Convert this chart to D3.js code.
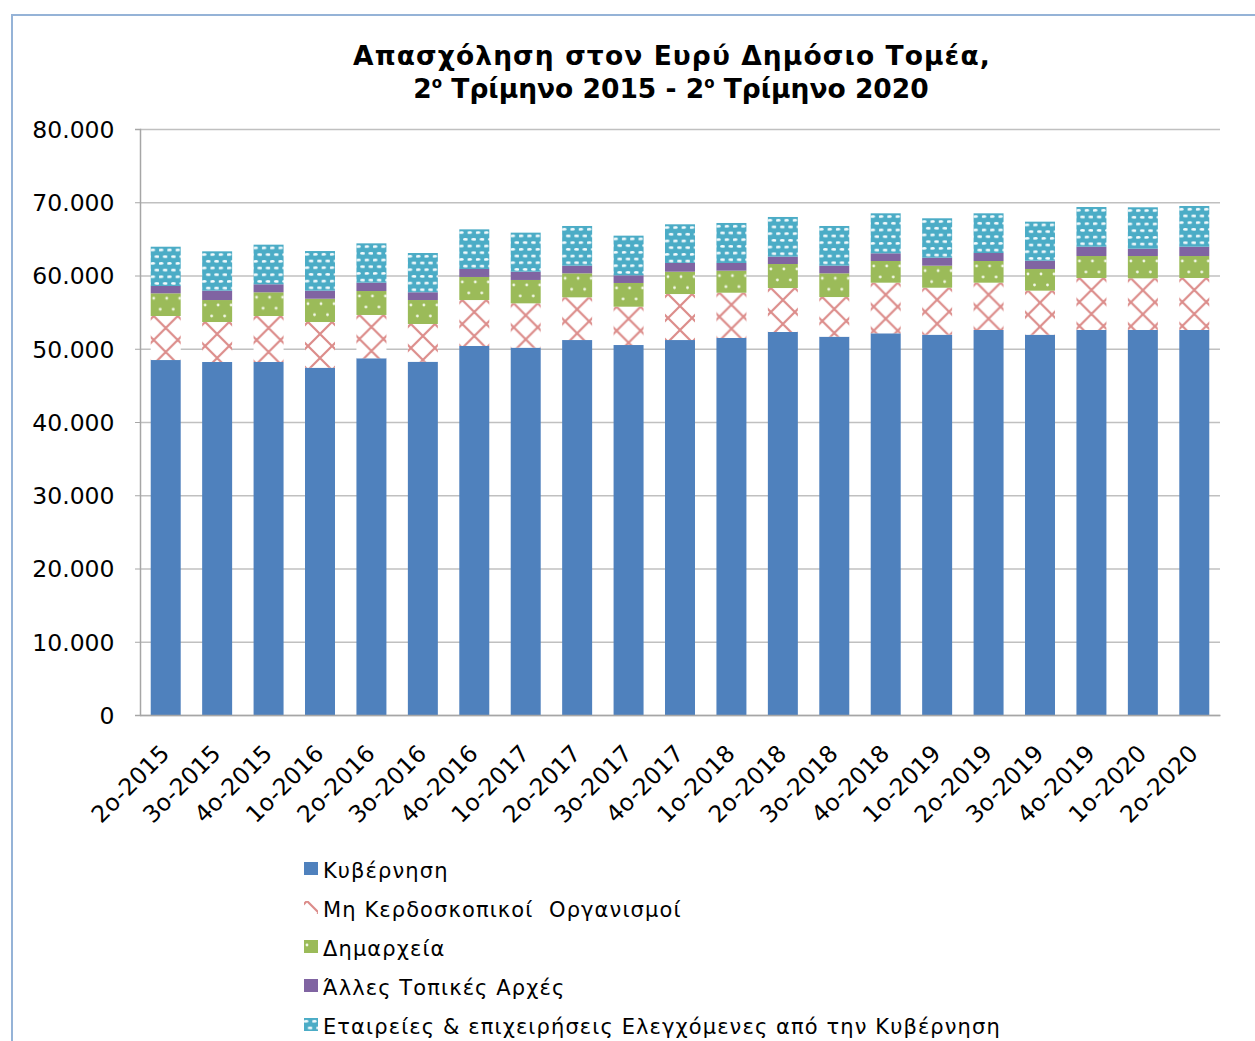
<!DOCTYPE html>
<html>
<head>
<meta charset="utf-8">
<script src="https://cdn.jsdelivr.net/npm/d3@7"></script>
<style>
  body { margin: 0; background: #fff; }
  svg text { font-family: "DejaVu Sans", Verdana, sans-serif; fill: #000; }
</style>
</head>
<body>
<div id="chart"></div>
<script>
// quarters on the x axis
var categories = ["2o-2015","3o-2015","4o-2015","1o-2016","2o-2016","3o-2016","4o-2016","1o-2017","2o-2017","3o-2017","4o-2017","1o-2018","2o-2018","3o-2018","4o-2018","1o-2019","2o-2019","3o-2019","4o-2019","1o-2020","2o-2020"];

// series, bottom to top
var government = [48460,48190,48190,47410,48700,48230,50380,50150,51190,50510,51190,51470,52290,51650,52110,51920,52560,51920,52560,52560,52560];
var nonProfit  = [6010,5460,6280,6240,5910,5150,6270,6050,5830,5230,6280,6180,6000,5410,6910,6410,6460,6010,7100,7060,7100];
var municipal  = [3100,3000,3240,3180,3270,3270,3150,3190,3280,3240,3050,3010,3280,3240,2960,3010,2960,2960,3000,3040,3000];
var otherLocal = [1000,1280,1090,1100,1140,1060,1090,1130,1040,1040,1190,1050,1000,1040,1050,1090,1090,1130,1270,1000,1270];
var companies  = [5360,5370,5410,5410,5370,5360,5410,5330,5420,5420,5280,5460,5420,5420,5460,5380,5420,5330,5420,5650,5560];

var seriesNames = ["Κυβέρνηση", "Μη Κερδοσκοπικοί  Οργανισμοί", "Δημαρχεία", "Άλλες Τοπικές Αρχές", "Εταιρείες & επιχειρήσεις Ελεγχόμενες από την Κυβέρνηση"];
var yTicks = [0,10000,20000,30000,40000,50000,60000,70000,80000];

var W = 1255, H = 1041;
var margin = {top: 129, left: 140, right: 35, bottom: 326};
var width = W - margin.left - margin.right,
    height = H - margin.top - margin.bottom;

var svg = d3.select("#chart").append("svg").attr("width", W).attr("height", H);

// chart area border (cut off at right and bottom)
svg.append("path")
    .attr("d", "M12,1041V15H1255")
    .attr("fill", "none").attr("stroke", "#95b3d7").attr("stroke-width", 2);

// patterns
var defs = svg.append("defs");
var pNP = defs.append("pattern").attr("id", "pNP").attr("patternUnits", "userSpaceOnUse")
    .attr("x", 3).attr("y", 0).attr("width", 24).attr("height", 24);
pNP.append("rect").attr("width", 24).attr("height", 24).attr("fill", "#fff");
pNP.append("path").attr("d", "M0,0L24,24M24,0L0,24M-12,12L12,-12M12,36L36,12M-12,12L12,36M12,-12L36,12")
    .attr("stroke", "#dc8c8a").attr("stroke-width", 2.2);

var pMun = defs.append("pattern").attr("id", "pMun").attr("patternUnits", "userSpaceOnUse")
    .attr("width", 13).attr("height", 22);
pMun.append("rect").attr("width", 13).attr("height", 22).attr("fill", "#9bbb59");
pMun.append("circle").attr("cx", 3).attr("cy", 5).attr("r", 1.4).attr("fill", "#f2f7e6");
pMun.append("circle").attr("cx", 9.5).attr("cy", 16).attr("r", 1.4).attr("fill", "#f2f7e6");

var pCo = defs.append("pattern").attr("id", "pCo").attr("patternUnits", "userSpaceOnUse")
    .attr("width", 8.3).attr("height", 13.4);
pCo.append("rect").attr("width", 8.3).attr("height", 13.4).attr("fill", "#4bacc6");
pCo.append("ellipse").attr("cx", 2).attr("cy", 3.3).attr("rx", 2.5).attr("ry", 1.3).attr("fill", "#f4fbfd");
pCo.append("ellipse").attr("cx", 6.15).attr("cy", 10).attr("rx", 2.5).attr("ry", 1.3).attr("fill", "#f4fbfd");

var fills = ["#4f81bd", "url(#pNP)", "url(#pMun)", "#8064a2", "url(#pCo)"];

var data = categories.map(function(c, i) {
  return {Label: c, s0: government[i], s1: nonProfit[i], s2: municipal[i], s3: otherLocal[i], s4: companies[i]};
});
var keys = ["s0","s1","s2","s3","s4"];

var x = d3.scaleBand().domain(categories).range([0, width]).paddingInner(0.417).paddingOuter(0.2085);
var y = d3.scaleLinear().domain([0, 80000]).range([height, 0]);

var loc = d3.formatLocale({decimal: ",", thousands: ".", grouping: [3], currency: ["", "€"]});
var fmt = loc.format(",d");

var g = svg.append("g").attr("transform", "translate(" + margin.left + "," + margin.top + ")");

// gridlines
g.append("g")
    .call(d3.axisLeft(y).tickValues(yTicks).tickSize(-width).tickFormat(""))
    .call(function(a) {
      a.select(".domain").remove();
      a.selectAll("line").attr("stroke", "#c0c0c0").attr("stroke-width", 1.3);
    });

// stacked bars, each bar in its own group so patterns start at the bar edge
var stack = d3.stack().keys(keys)(data);
stack.forEach(function(layer, k) {
  g.append("g").selectAll("g")
    .data(layer)
    .enter().append("g")
      .attr("transform", function(d) { return "translate(" + x(d.data.Label) + "," + y(d[1]) + ")"; })
    .append("rect")
      .attr("width", x.bandwidth())
      .attr("height", function(d) { return y(d[0]) - y(d[1]); })
      .attr("fill", fills[k]);
});

// y axis
g.append("g")
    .call(d3.axisLeft(y).tickValues(yTicks).tickSize(5).tickPadding(20.5).tickFormat(fmt))
    .call(function(a) {
      a.select(".domain").attr("stroke", "#a6a6a6").attr("stroke-width", 1.5);
      a.selectAll("line").attr("stroke", "#a6a6a6");
      a.selectAll("text").attr("font-size", "23.5px").attr("font-family", "DejaVu Sans").attr("dy", "0.36em");
    });

// x axis
g.append("g")
    .attr("transform", "translate(0," + height + ")")
    .call(d3.axisBottom(x).tickSize(0).tickFormat(""))
    .call(function(a) {
      a.select(".domain").attr("stroke", "#a6a6a6").attr("stroke-width", 1.5);
    });

g.append("g").selectAll("text")
    .data(categories)
    .enter().append("text")
      .attr("transform", function(d) { return "translate(" + (x(d) + x.bandwidth() / 2 + 5) + "," + (height + 40) + ") rotate(-45)"; })
      .attr("text-anchor", "end")
      .attr("font-size", "23.5px")
      .text(function(d) { return d; });

// title
var title = svg.append("text").attr("text-anchor", "middle").attr("font-weight", "bold")
    .attr("font-size", "26.5px");
title.append("tspan").attr("x", 672).attr("y", 65).attr("letter-spacing", "1.1px")
    .text("Απασχόληση στον Ευρύ Δημόσιο Τομέα,");
var t2 = title.append("tspan").attr("x", 671).attr("y", 98);
t2.append("tspan").text("2");
t2.append("tspan").attr("font-size", "15px").attr("dy", "-10").text("ο");
t2.append("tspan").attr("dy", "10").text(" Τρίμηνο 2015 - 2");
t2.append("tspan").attr("font-size", "15px").attr("dy", "-10").text("ο");
t2.append("tspan").attr("dy", "10").text(" Τρίμηνο 2020");

// legend
var legend = svg.append("g").selectAll("g")
    .data(seriesNames)
    .enter().append("g")
      .attr("transform", function(d, i) { return "translate(304," + (862 + i * 39) + ")"; });
legend.append("rect").attr("width", 14).attr("height", 13)
    .attr("fill", function(d, i) { return fills[i]; });
legend.append("text")
    .attr("x", 19).attr("y", 15.5)
    .attr("font-size", "21px")
    .attr("letter-spacing", "1.1px")
    .style("white-space", "pre")
    .text(function(d) { return d; });
</script>
</body>
</html>
